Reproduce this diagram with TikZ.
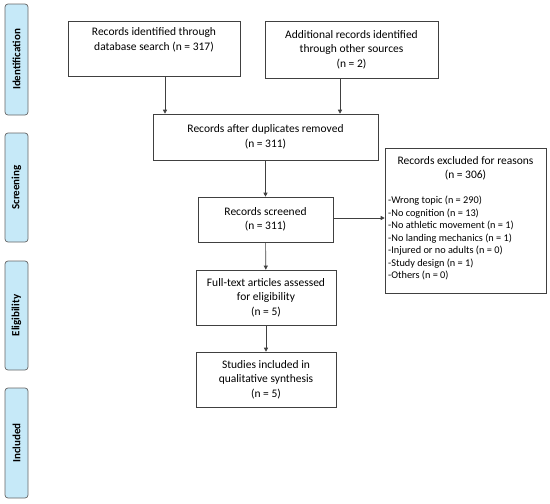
\documentclass[tikz,border=0pt]{standalone}
\usepackage{fontspec}
\setmainfont{Carlito}
\usetikzlibrary{arrows.meta}
\begin{document}
\begin{tikzpicture}[x=1pt,y=-1pt,
  flowbox/.style={draw=black!75,line width=0.6pt,align=center,inner sep=0pt,font=\fontsize{11.5}{14.5}\selectfont},
  phase/.style={draw=black!60,fill=phasefill,rounded corners=3pt,line width=0.7pt,inner sep=0pt},
  phasetext/.style={rotate=90,font=\bfseries\fontsize{11}{13}\selectfont},
  arr/.style={-{Triangle[length=4pt,width=4pt]},line width=0.6pt,draw=black!75}]
\definecolor{phasefill}{HTML}{C6E9F8}
\useasboundingbox (0,0) rectangle (550,504);
% phase labels
\node[phase,minimum width=23pt,minimum height=111pt] (pid) at (16.5,59.5) {};
\node[phasetext] at (pid.center) {Identification};
\node[phase,minimum width=23pt,minimum height=109pt] (psc) at (16.5,187.5) {};
\node[phasetext] at (psc.center) {Screening};
\node[phase,minimum width=23pt,minimum height=109pt] (pel) at (16.5,315.5) {};
\node[phasetext] at (pel.center) {Eligibility};
\node[phase,minimum width=23pt,minimum height=110pt] (pin) at (16.5,443) {};
\node[phasetext] at (pin.center) {Included};
% boxes
\node[flowbox,minimum width=172pt,minimum height=55pt] (db) at (154,48.5) {Records identified through\\database search (n = 317)\\[4pt]};
\node[flowbox,minimum width=173pt,minimum height=57pt] (oth) at (351.5,49.5) {Additional records identified\\through other sources\\(n = 2)};
\node[flowbox,minimum width=225pt,minimum height=46pt] (dup) at (265.5,137) {Records after duplicates removed\\(n = 311)};
\node[flowbox,minimum width=135pt,minimum height=45pt] (scr) at (265.5,219.5) {Records screened\\(n = 311)};
\node[flowbox,minimum width=140pt,minimum height=55pt] (full) at (266,297.5) {Full-text articles assessed\\for eligibility\\(n = 5)};
\node[flowbox,minimum width=140pt,minimum height=55pt] (inc) at (266,379.5) {Studies included in\\qualitative synthesis\\(n = 5)};
\node[draw=black!75,line width=0.6pt,minimum width=161pt,minimum height=145pt,inner sep=0pt] (exc) at (465.5,220.5) {};
\node[align=center,font=\fontsize{11.5}{14}\selectfont,anchor=north] (exct) at (465.5,153) {Records excluded for reasons\\(n = 306)};
\node[align=left,anchor=north west,inner sep=0pt,font=\fontsize{10.3}{12.5}\selectfont] (excl) at (388,196) {-Wrong topic (n = 290)\\-No cognition (n = 13)\\-No athletic movement (n = 1)\\-No landing mechanics (n = 1)\\-Injured or no adults (n = 0)\\-Study design (n = 1)\\-Others (n = 0)};
% arrows
\draw[arr] (db.south -| 165,0) -- (dup.north -| 165,0);
\draw[arr] (oth.south -| 340,0) -- (dup.north -| 340,0);
\draw[arr] (dup) -- (scr);
\draw[arr] (scr.east |- 0,218) -- (exc.west |- 0,218);
\draw[arr] (scr) -- (full);
\draw[arr] (full) -- (inc);
\end{tikzpicture}
\end{document}
